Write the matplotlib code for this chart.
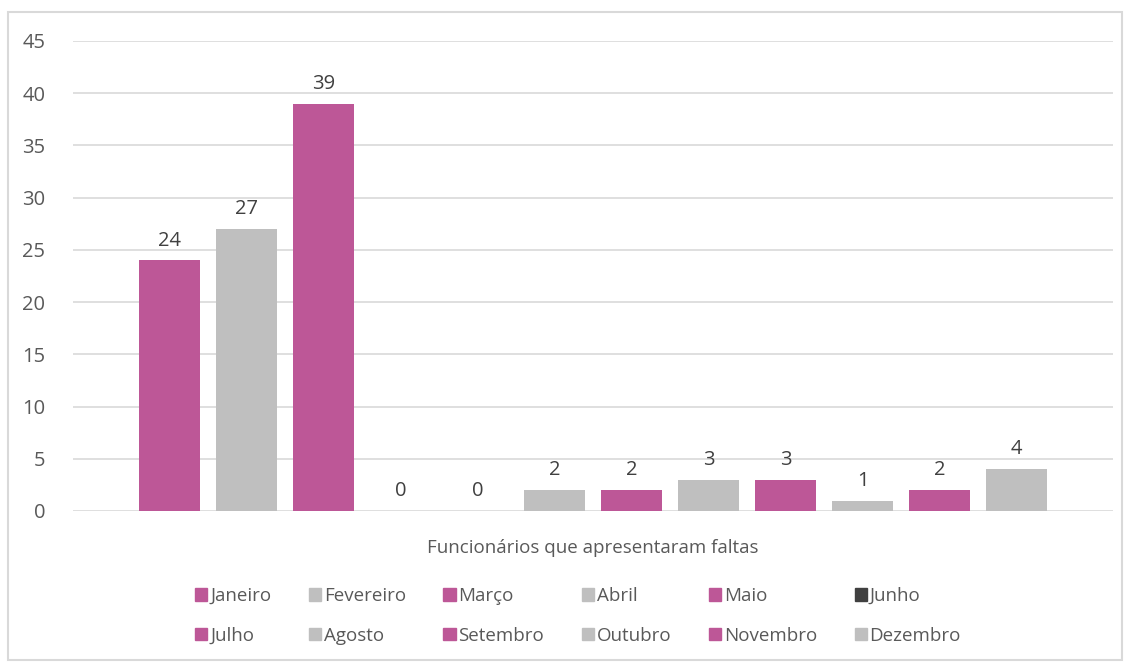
import matplotlib.pyplot as plt
from matplotlib.patches import Patch, Rectangle

months = ['Janeiro', 'Fevereiro', 'Março', 'Abril', 'Maio', 'Junho',
          'Julho', 'Agosto', 'Setembro', 'Outubro', 'Novembro', 'Dezembro']
values = [24, 27, 39, 0, 0, 2, 2, 3, 3, 1, 2, 4]
category = 'Funcionários que apresentaram faltas'

pink = '#BD5797'
grey = '#BFBFBF'
dark = '#404040'
bar_colors = [pink, grey, pink, grey, pink, grey, pink, grey, pink, grey, pink, grey]
legend_colors = [pink, grey, pink, grey, pink, dark, pink, grey, pink, grey, pink, grey]

plt.rcParams['font.family'] = ['Open Sans', 'DejaVu Sans']

fig = plt.figure(figsize=(11.31, 6.68), dpi=100)
ax = fig.add_axes([73 / 1131, 157 / 668, 1040 / 1131, 470 / 668])

x = list(range(len(months)))
bars = ax.bar(x, values, width=61 / 77, color=bar_colors, zorder=3)
ax.bar_label(bars, padding=7, fontsize=14.5, color='#404040')

ax.set_xlim(-1.253, 12.253)
ax.set_ylim(0, 45)
ax.set_yticks(range(0, 46, 5))
ax.yaxis.grid(True, color='#D9D9D9', linewidth=1.2, zorder=0)
for s in ax.spines.values():
    s.set_visible(False)
ax.tick_params(axis='y', length=0, pad=20, labelsize=14.5, labelcolor='#595959')
ax.set_xticks([5.5])
ax.set_xticklabels([category])
ax.tick_params(axis='x', length=0, pad=20, labelsize=13.5, labelcolor='#595959')

# legend, column-major order so rows read Jan..Jun / Jul..Dez
order = [0, 6, 1, 7, 2, 8, 3, 9, 4, 10, 5, 11]
handles = [Patch(color=legend_colors[i], label=months[i]) for i in order]
fig.legend(handles=handles, ncol=6, loc='center', bbox_to_anchor=(578 / 1131, 1 - 616 / 668),
           frameon=False, fontsize=13.5, labelcolor='#595959', handlelength=0.65, handleheight=0.65,
           handletextpad=0.15, columnspacing=2.0, labelspacing=1.15)

fig.patches.append(Rectangle((8 / 1131, 8 / 668), 1114 / 1131, 648 / 668, transform=fig.transFigure,
                             fill=False, edgecolor='#D9D9D9', linewidth=1.5))

fig.savefig('out.png', dpi=100)
